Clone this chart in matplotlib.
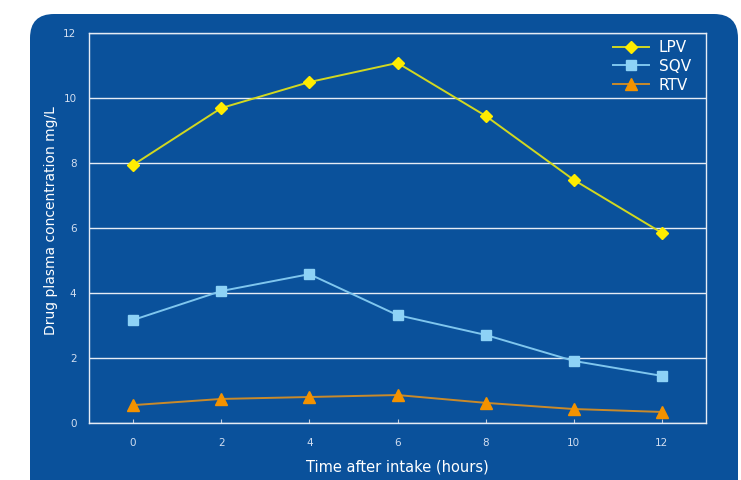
import matplotlib
matplotlib.use("Agg")
import matplotlib.pyplot as plt
from matplotlib.patches import FancyBboxPatch

hours = [0, 2, 4, 6, 8, 10, 12]
lpv = [7.94, 9.69, 10.49, 11.08, 9.45, 7.48, 5.85]
sqv = [3.17, 4.06, 4.58, 3.32, 2.71, 1.91, 1.45]
rtv = [0.55, 0.74, 0.80, 0.86, 0.62, 0.43, 0.34]
yticks = [0, 2, 4, 6, 8, 10, 12]

BG = "#0a519b"
TXT = "#d2def0"

W, H = 741, 480
fig = plt.figure(figsize=(W/100, H/100), dpi=100)
fig.patch.set_facecolor("white")

# rounded blue panel (inch coordinates)
box = FancyBboxPatch((0.30, -0.40), 7.08, 4.66 + 0.40,
                     boxstyle="round,pad=0,rounding_size=0.24",
                     transform=fig.dpi_scale_trans, facecolor=BG,
                     edgecolor="none", zorder=-5)
fig.patches.append(box)

ax = fig.add_axes([89/W, 1-423/H, (706-89)/W, (423-33)/H])
ax.set_zorder(1)
ax.set_facecolor(BG)
ax.set_xlim(-1, 13)
ax.set_ylim(0, 12)

ax.set_yticks(yticks)
ax.set_xticks(hours)
ax.grid(axis="y", color="#e6ecf5", linewidth=1.0)
ax.set_axisbelow(True)

for s in ["left", "bottom", "right", "top"]:
    ax.spines[s].set_color("#e6ecf5")
    ax.spines[s].set_linewidth(1.0)

ax.tick_params(axis="y", length=0, pad=9, labelsize=7.5, labelcolor=TXT)
ax.tick_params(axis="x", direction="in", length=3, color="#c0cde0", pad=11,
               labelsize=7.5, labelcolor=TXT)

ax.plot(hours, lpv, color="#d2d820", lw=1.4, marker="D", ms=6.5,
        mfc="#ffec00", mec="#ffec00", label="LPV")
ax.plot(hours, sqv, color="#7fc6ee", lw=1.4, marker="s", ms=7,
        mfc="#8dd2f6", mec="#8dd2f6", label="SQV")
ax.plot(hours, rtv, color="#c98a2a", lw=1.4, marker="^", ms=8,
        mfc="#f39200", mec="#f39200", label="RTV")

leg = ax.legend(loc="upper right", frameon=False, fontsize=11,
                labelcolor="white", handlelength=2.4, handletextpad=0.6,
                borderaxespad=0.0, labelspacing=0.25,
                bbox_to_anchor=(0.985, 0.998))

ax.set_ylabel("Drug plasma concentration mg/L", color="white", fontsize=10,
              labelpad=3)
ax.yaxis.set_label_coords(-0.05, 0.52)
ax.set_xlabel("Time after intake (hours)", color="white", fontsize=10.5,
              labelpad=8)

fig.savefig("out.png", dpi=100, facecolor="white")
